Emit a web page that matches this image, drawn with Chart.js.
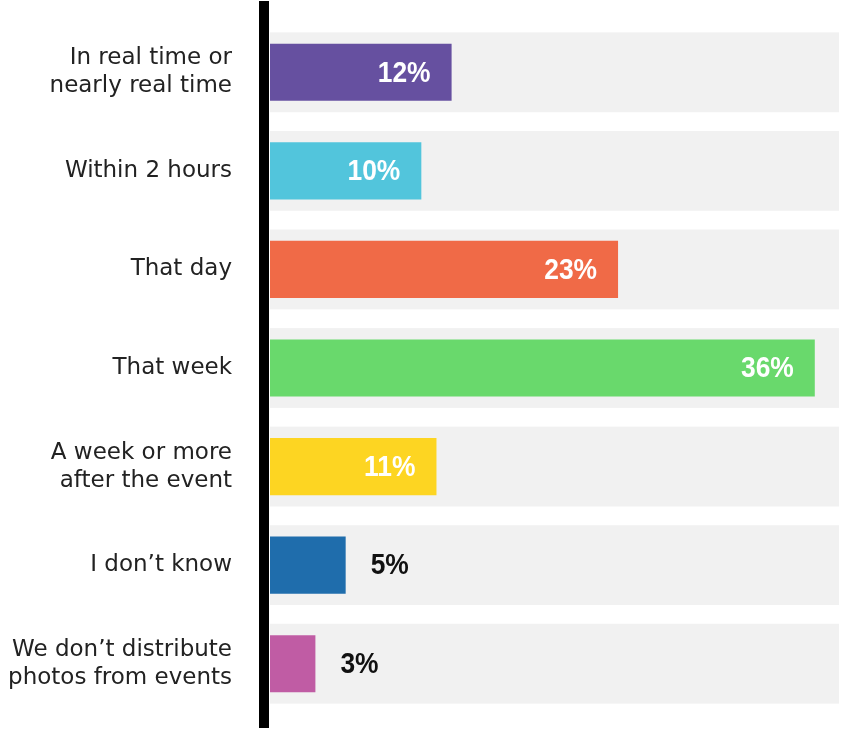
<!DOCTYPE html>
<html>
<head>
<meta charset="utf-8">
<script src="https://cdn.jsdelivr.net/npm/chart.js@4"></script>
<style>
  html, body { margin: 0; padding: 0; background: #fff; }
  #wrap { width: 841px; height: 730px; position: relative; }
</style>
</head>
<body>
<div id="wrap"><canvas id="timingChart"></canvas></div>
<script>
const categories = [
    ['In real time or', 'nearly real time'],
    'Within 2 hours',
    'That day',
    'That week',
    ['A week or more', 'after the event'],
    'I don\u2019t know',
    ['We don\u2019t distribute', 'photos from events']
];
const shares = [12, 10, 23, 36, 11, 5, 3];
const barColors = ['#6650a0', '#52c5dc', '#f06a47', '#69d96c', '#fdd522', '#1f6dac', '#c05ca4'];

// grey rows behind each bar, full width of the plot
const rowBands = {
    id: 'rowBands',
    beforeDatasetsDraw(chart) {
        const { ctx, chartArea, scales } = chart;
        const y = scales.y;
        const slot = y.getPixelForValue(1) - y.getPixelForValue(0);
        const h = slot * 0.81;
        ctx.save();
        ctx.fillStyle = '#f1f1f1';
        categories.forEach((c, i) => {
            const cy = y.getPixelForValue(i);
            ctx.fillRect(chartArea.left, cy - h / 2, chartArea.right - chartArea.left, h);
        });
        ctx.restore();
    }
};

// thick black rule left of the bars
const axisRule = {
    id: 'axisRule',
    afterDraw(chart) {
        const { ctx, chartArea } = chart;
        ctx.save();
        ctx.fillStyle = '#000';
        ctx.fillRect(chartArea.left - 11, 1, 10, chart.height - 3);
        ctx.restore();
    }
};

// percentage labels: inside in white for long bars, outside in black for short ones
const valueLabels = {
    id: 'valueLabels',
    afterDatasetsDraw(chart) {
        const { ctx } = chart;
        const meta = chart.getDatasetMeta(0);
        const squeeze = 0.88;
        ctx.save();
        ctx.font = 'bold 30px "Liberation Sans", Arial, sans-serif';
        ctx.textBaseline = 'middle';
        meta.data.forEach((bar, i) => {
            const v = shares[i];
            const text = v + '%';
            ctx.save();
            if (v >= 8) {
                ctx.fillStyle = '#ffffff';
                ctx.textAlign = 'right';
                ctx.translate(bar.x - 21, bar.y + 1);
            } else {
                ctx.fillStyle = '#111111';
                ctx.textAlign = 'left';
                ctx.translate(bar.x + 25, bar.y + 1);
            }
            ctx.scale(squeeze, 1);
            ctx.fillText(text, 0, 0);
            ctx.restore();
        });
        ctx.restore();
    }
};

new Chart(document.getElementById('timingChart'), {
    type: 'bar',
    data: {
        labels: categories,
        datasets: [{
            data: shares,
            backgroundColor: barColors,
            borderWidth: 0,
            barPercentage: 0.58,
            categoryPercentage: 1
        }]
    },
    options: {
        indexAxis: 'y',
        responsive: true,
        maintainAspectRatio: false,
        animation: false,
        layout: {
            padding: { top: 23, bottom: 17, left: 0, right: 2 }
        },
        plugins: {
            legend: { display: false },
            tooltip: { enabled: false }
        },
        scales: {
            x: {
                display: false,
                min: 0,
                max: 37.6
            },
            y: {
                grid: { display: false, drawTicks: false },
                border: { display: false },
                afterFit: scale => {
                    scale.width = 270;
                    scale.paddingTop = 0;
                    scale.paddingBottom = 0;
                },
                ticks: {
                    padding: 38,
                    color: '#222222',
                    font: { family: '"DejaVu Sans", sans-serif', size: 23, lineHeight: 1.22 }
                }
            }
        }
    },
    plugins: [rowBands, axisRule, valueLabels]
});
</script>
</body>
</html>
